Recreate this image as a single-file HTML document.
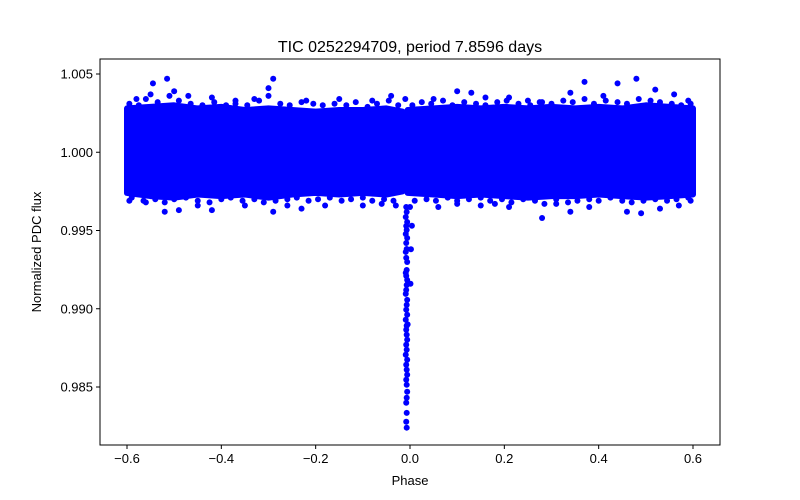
<!DOCTYPE html>
<html><head><meta charset="utf-8"><style>
body{margin:0;background:#fff}
svg{display:block;font-family:"Liberation Sans","DejaVu Sans",sans-serif}
</style></head><body>
<svg id="chart" width="800" height="500" xmlns="http://www.w3.org/2000/svg">
<rect width="800" height="500" fill="#fff"/>
<text x="410" y="52" text-anchor="middle" font-size="16">TIC 0252294709, period 7.8596 days</text>
<g id="plot"></g>
<g id="axes"></g>
<text x="410" y="485" text-anchor="middle" font-size="13">Phase</text>
<text transform="translate(41,252) rotate(-90)" text-anchor="middle" font-size="13">Normalized PDC flux</text>
</svg>
<script>
// data arrays
const xTicks = [-0.6,-0.4,-0.2,0.0,0.2,0.4,0.6];
const xTickLabels = ["\u22120.6","\u22120.4","\u22120.2","0.0","0.2","0.4","0.6"];
const yTicks = [0.985,0.990,0.995,1.000,1.005];
const yTickLabels = ["0.985","0.990","0.995","1.000","1.005"];
// band envelope (dense core) per phase bin
const bandPhaseLeft = [-0.6,-0.55,-0.5,-0.45,-0.4,-0.35,-0.3,-0.25,-0.2,-0.15,-0.1,-0.05,-0.016];
const bandUpperLeft = [1.0028,1.0029,1.0030,1.0028,1.0029,1.0027,1.0028,1.0027,1.0026,1.0027,1.0027,1.0028,1.0026];
const bandLowerLeft = [0.9974,0.9972,0.9971,0.9973,0.9972,0.9973,0.9971,0.9973,0.9974,0.9973,0.9974,0.9973,0.9975];
const bandPhaseRight = [-0.005,0.05,0.1,0.15,0.2,0.25,0.3,0.35,0.4,0.45,0.5,0.55,0.6];
const bandUpperRight = [1.0027,1.0028,1.0029,1.0028,1.0029,1.0028,1.0029,1.0028,1.0029,1.0028,1.0030,1.0029,1.0028];
const bandLowerRight = [0.9974,0.9973,0.9972,0.9973,0.9972,0.9971,0.9972,0.9972,0.9973,0.9972,0.9971,0.9972,0.9973];
// fringe points near band edges
const fringePhase = [-0.595,-0.575,-0.56,-0.535,-0.51,-0.49,-0.465,-0.44,-0.415,-0.39,-0.37,-0.345,-0.32,-0.3,-0.275,-0.255,-0.23,-0.205,-0.185,-0.16,-0.135,-0.115,-0.09,-0.07,-0.045,-0.025,
 0.005,0.025,0.045,0.07,0.09,0.115,0.14,0.16,0.185,0.205,0.23,0.255,0.275,0.3,0.325,0.345,0.37,0.39,0.415,0.44,0.46,0.485,0.51,0.53,0.555,0.575,0.595,
 -0.59,-0.565,-0.54,-0.52,-0.5,-0.475,-0.45,-0.425,-0.4,-0.38,-0.355,-0.33,-0.31,-0.285,-0.26,-0.24,-0.215,-0.195,-0.17,-0.145,-0.125,-0.1,-0.08,-0.055,-0.035,
 0.01,0.035,0.055,0.08,0.1,0.125,0.15,0.17,0.195,0.215,0.24,0.265,0.285,0.31,0.335,0.355,0.38,0.4,0.425,0.45,0.47,0.495,0.52,0.545,0.565,0.59];
const fringeFlux = [1.0031,1.0030,1.0034,1.0032,1.0036,1.0033,1.0031,1.0030,1.0032,1.0030,1.0031,1.0030,1.0033,1.0036,1.0031,1.0030,1.0032,1.0031,1.0030,1.0031,1.0030,1.0032,1.0029,1.0031,1.0033,1.0030,
 1.0030,1.0032,1.0031,1.0033,1.0030,1.0032,1.0031,1.0030,1.0032,1.0033,1.0031,1.0030,1.0032,1.0031,1.0033,1.0032,1.0034,1.0031,1.0033,1.0032,1.0031,1.0034,1.0033,1.0032,1.0031,1.0030,1.0031,
 0.9971,0.9969,0.9970,0.9968,0.9970,0.9971,0.9969,0.9968,0.9970,0.9971,0.9969,0.9970,0.9968,0.9969,0.9970,0.9971,0.9969,0.9970,0.9971,0.9969,0.9970,0.9971,0.9969,0.9970,0.9969,
 0.9969,0.9970,0.9969,0.9971,0.9969,0.9970,0.9971,0.9969,0.9970,0.9968,0.9970,0.9969,0.9967,0.9970,0.9968,0.9969,0.9970,0.9969,0.9971,0.9969,0.9968,0.9969,0.9970,0.9969,0.9970,0.9971];
// sparse outlier points
const outPhase = [-0.515,-0.545,-0.29,0.48,0.37,0.44,-0.5,-0.3,-0.22,-0.15,-0.04,0.10,0.13,0.21,0.25,0.34,0.52,0.59,-0.58,-0.42,-0.37,0.05,0.28,-0.47,-0.55,-0.33,-0.08,0.16,0.41,0.56,-0.01,
 -0.52,-0.49,-0.42,-0.29,-0.26,-0.18,-0.10,0.06,0.10,0.15,0.21,0.28,0.34,0.46,0.49,0.57,-0.56,-0.35,0.00,-0.03,-0.45,-0.23,-0.06,0.18,0.38,0.53,-0.595,0.595,0.31];
const outFlux = [1.0047,1.0044,1.0047,1.0047,1.0045,1.0044,1.0039,1.0041,1.0033,1.0034,1.0036,1.0039,1.0038,1.0035,1.0033,1.0038,1.0040,1.0033,1.0034,1.0035,1.0033,1.0034,1.0032,1.0036,1.0037,1.0034,1.0033,1.0035,1.0036,1.0037,1.0034,
 0.9962,0.9963,0.9963,0.9962,0.9966,0.9966,0.9966,0.9965,0.9967,0.9966,0.9965,0.9958,0.9962,0.9962,0.9961,0.9966,0.9968,0.9966,0.9965,0.9966,0.9966,0.9964,0.9967,0.9967,0.9965,0.9964,0.9969,0.9969,0.9967];
// transit points
const trPhase = [-0.008,-0.007,-0.009,-0.006,-0.008,0.004,-0.007,-0.009,-0.006,-0.008,-0.007,-0.009,0.002,-0.008,-0.006,-0.007,-0.009,-0.008,-0.006,-0.007,0.001,-0.008,-0.009,-0.006,-0.007,-0.008,-0.006,-0.009,-0.007,-0.005,-0.008,-0.007,-0.006,-0.008,-0.007,-0.009,-0.006,-0.008,-0.007,-0.006,-0.008,-0.007,-0.006,-0.007,-0.008,-0.007,-0.008,-0.007];
const trFlux = [0.99650,0.99618,0.99586,0.99554,0.99529,0.99530,0.99503,0.99478,0.99452,0.99420,0.99382,0.99363,0.99380,0.99325,0.99299,0.99248,0.99229,0.99210,0.99184,0.99152,0.99160,0.99120,0.99095,0.99057,0.99025,0.98994,0.98962,0.98930,0.98892,0.98900,0.98866,0.98834,0.98802,0.98770,0.98738,0.98706,0.98674,0.98642,0.98610,0.98578,0.98546,0.98514,0.98470,0.98431,0.98399,0.98335,0.98278,0.98240];

const NS="http://www.w3.org/2000/svg";
const X0=100,X1=720,Y0=59,Y1=445;
const xMin=-0.6-27/471.67, xMax=0.6+27/471.67;
const yMax=1.005+15/15650, yMin=0.985-58/15650;
const xs=v=>X0+(v-xMin)/(xMax-xMin)*(X1-X0);
const ys=v=>Y1-(v-yMin)/(yMax-yMin)*(Y1-Y0);
const plot=document.getElementById('plot');
const axes=document.getElementById('axes');
function mk(t,a,p){const e=document.createElementNS(NS,t);for(const k in a)e.setAttribute(k,a[k]);p.appendChild(e);return e;}

function band(ph,up,lo,name){
  let pts=[];
  for(let i=0;i<ph.length;i++)pts.push(xs(ph[i])+','+ys(up[i]));
  for(let i=ph.length-1;i>=0;i--)pts.push(xs(ph[i])+','+ys(lo[i]));
  const p=mk('polygon',{points:pts.join(' '),fill:'#0000ff',stroke:'#0000ff','stroke-width':6,'stroke-linejoin':'round'},plot);
  
  
}
band(bandPhaseLeft,bandUpperLeft,bandLowerLeft,'flux-band-left');
band(bandPhaseRight,bandUpperRight,bandLowerRight,'flux-band-right');

function dots(ph,fl,name){
  for(let i=0;i<ph.length;i++){
    const c=mk('circle',{cx:xs(ph[i]),cy:ys(fl[i]),r:3,fill:'#0000ff'},plot);
    
    
  }
}
dots(fringePhase,fringeFlux,'fringe-point');
dots(outPhase,outFlux,'outlier-point');
dots(trPhase,trFlux,'transit-point');

const fr=mk('rect',{x:X0,y:Y0,width:X1-X0,height:Y1-Y0,fill:'none',stroke:'#000','stroke-width':1},axes);


xTicks.forEach((v,i)=>{
  const x=xs(v);
  const t=mk('line',{x1:x,x2:x,y1:Y1,y2:Y1+4,stroke:'#000'},axes);
  
  
  const l=mk('text',{x:x,y:Y1+18,'text-anchor':'middle','font-size':13},axes);
  l.textContent=xTickLabels[i];
  
  
});
yTicks.forEach((v,i)=>{
  const y=ys(v);
  const t=mk('line',{x1:X0-4,x2:X0,y1:y,y2:y,stroke:'#000'},axes);
  
  
  const l=mk('text',{x:X0-7,y:y+4.5,'text-anchor':'end','font-size':13},axes);
  l.textContent=yTickLabels[i];
  
  
});
</script>
</body></html>
